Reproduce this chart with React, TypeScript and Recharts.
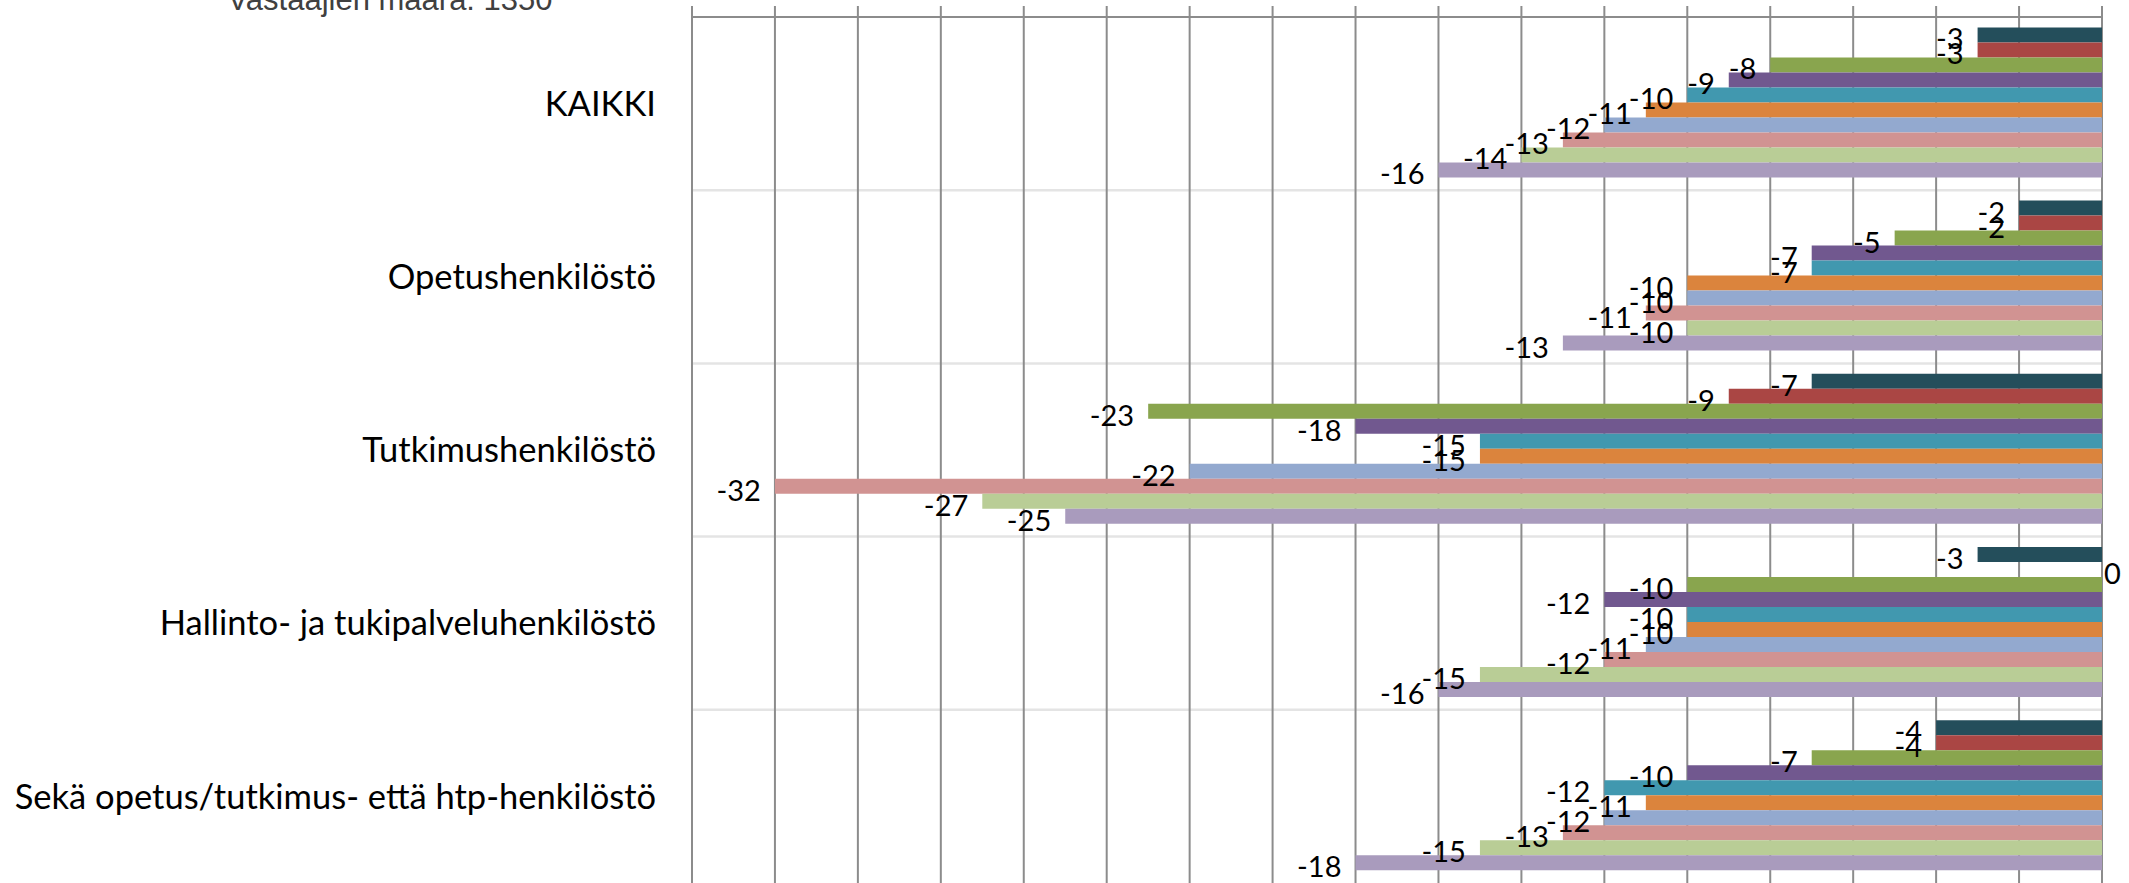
import { BarChart, Bar, XAxis, YAxis, CartesianGrid, LabelList } from 'recharts';

const categories = [
  'KAIKKI',
  'Opetushenkilöstö',
  'Tutkimushenkilöstö',
  'Hallinto- ja tukipalveluhenkilöstö',
  'Sekä opetus/tutkimus- että htp-henkilöstö',
];

// one array per series, values in category order
const sarja1 = [-3, -2, -7, -3, -4];
const sarja2 = [-3, -2, -9, 0, -4];
const sarja3 = [-8, -5, -23, -10, -7];
const sarja4 = [-9, -7, -18, -12, -10];
const sarja5 = [-10, -7, -15, -10, -12];
const sarja6 = [-11, -10, -15, -10, -11];
const sarja7 = [-12, -10, -22, -11, -12];
const sarja8 = [-13, -11, -32, -12, -13];
const sarja9 = [-14, -10, -27, -15, -15];
const sarja10 = [-16, -13, -25, -16, -18];

const seriesNames = ['Sarja 1', 'Sarja 2', 'Sarja 3', 'Sarja 4', 'Sarja 5', 'Sarja 6', 'Sarja 7', 'Sarja 8', 'Sarja 9', 'Sarja 10'];
const seriesValues = [sarja1, sarja2, sarja3, sarja4, sarja5, sarja6, sarja7, sarja8, sarja9, sarja10];
const seriesColors = ['#244E5B', '#AA4644', '#89A54E', '#71588F', '#4198AF', '#DB843D', '#93A9CF', '#D19392', '#B9CD96', '#A99BBD'];

const valueTicks = [-34, -32, -30, -28, -26, -24, -22, -20, -18, -16, -14, -12, -10, -8, -6, -4, -2, 0];

const respondents = 'Vastaajien määrä: 1350';

const data = categories.map((name, i) => {
  const row: any = { name };
  seriesNames.forEach((s, j) => {
    row[s] = seriesValues[j][i];
  });
  return row;
});

const GRID = '#8c8c8c';
const LABEL_FONT = 'Lato, "Open Sans", sans-serif';

const BarLabel = (props: any) => {
  const { x, y, width, height, value } = props;
  const left = Math.min(x, x + width);
  const right = Math.max(x, x + width);
  const cy = y + height / 2 + 3;
  if (Number(value) === 0) {
    return (
      <text x={right + 2} y={cy} textAnchor="start" dominantBaseline="central" fontSize={29} fontFamily={LABEL_FONT} fill="#000">
        0
      </text>
    );
  }
  return (
    <text x={left - 14} y={cy} textAnchor="end" dominantBaseline="central" fontSize={29} fontFamily={LABEL_FONT} fill="#000">
      {value}
    </text>
  );
};

// separators between category bands
const bandLines = ({ offset }: any) => {
  const lines: number[] = [];
  for (let i = 1; i < categories.length; i++) {
    lines.push(offset.top + (offset.height * i) / categories.length);
  }
  return lines;
};

// keep zero-valued bars in the layout so their label is drawn
const zeroSize = (v: any) => (Number(v) === 0 ? 0.01 : 0);

export default function App() {
  return (
    <div style={{ position: 'absolute', left: 0, top: 0, width: 2129, height: 883, background: '#fff', overflow: 'hidden' }}>
      <BarChart
        width={2129}
        height={883}
        data={data}
        layout="vertical"
        margin={{ top: 6, right: 27, left: 0, bottom: 0 }}
        barCategoryGap="6%"
        barGap={0}
      >
        <CartesianGrid vertical={false} stroke="#e4e4e4" strokeWidth={2.5} horizontalCoordinatesGenerator={bandLines} />
        <CartesianGrid horizontal={false} stroke={GRID} strokeWidth={2} />
        <XAxis
          type="number"
          orientation="top"
          domain={[-34, 0]}
          ticks={valueTicks}
          height={11}
          tickSize={11}
          allowDataOverflow
          axisLine={{ stroke: GRID, strokeWidth: 2 }}
          tickLine={{ stroke: GRID, strokeWidth: 2 }}
          tick={() => <g />}
        />
        <YAxis
          type="category"
          dataKey="name"
          width={692}
          interval={0}
          tickSize={0}
          tickMargin={36}
          axisLine={false}
          tickLine={false}
          tick={{ fontSize: 34.5, fontFamily: LABEL_FONT, fill: '#000' }}
        />
        {seriesNames.map((s, j) => (
          <Bar key={s} dataKey={s} fill={seriesColors[j]} minPointSize={zeroSize} isAnimationActive={false}>
            <LabelList dataKey={s} content={<BarLabel />} />
          </Bar>
        ))}
      </BarChart>
      <svg width={2129} height={883} style={{ position: 'absolute', left: 0, top: 0, pointerEvents: 'none' }}>
        <text x={390} y={10} textAnchor="middle" fontSize={31} fontFamily='"Liberation Sans", Arial, sans-serif' fill="#404040">
          {respondents}
        </text>
      </svg>
    </div>
  );
}
